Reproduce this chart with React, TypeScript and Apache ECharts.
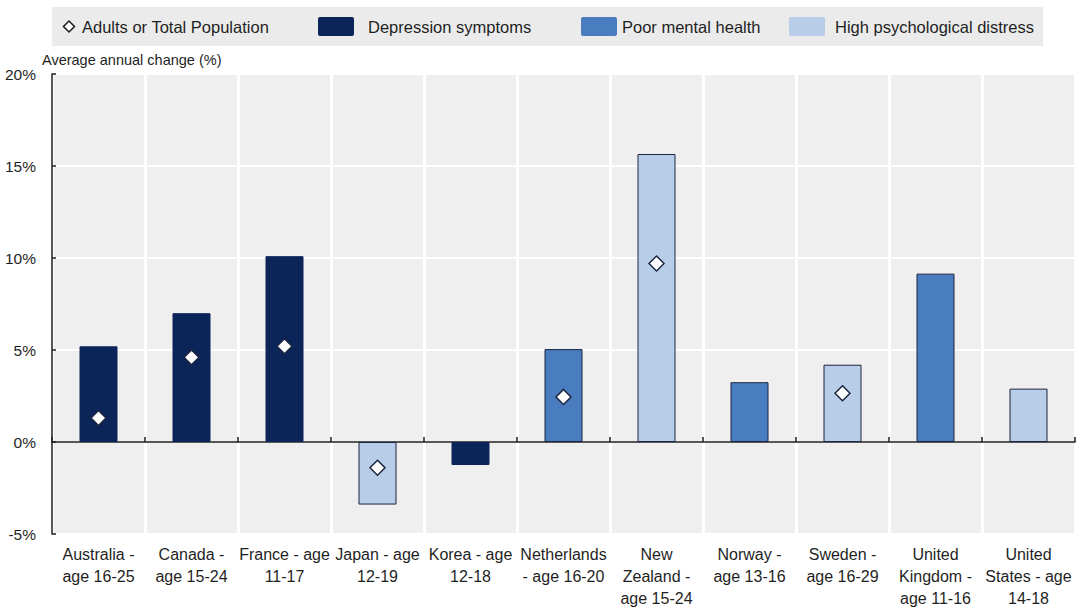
import React, { useEffect, useRef } from "react";
import * as echarts from "echarts";

const categories = [
  "Australia -\nage 16-25",
  "Canada -\nage 15-24",
  "France - age\n11-17",
  "Japan - age\n12-19",
  "Korea - age\n12-18",
  "Netherlands\n- age 16-20",
  "New\nZealand -\nage 15-24",
  "Norway -\nage 13-16",
  "Sweden -\nage 16-29",
  "United\nKingdom -\nage 11-16",
  "United\nStates - age\n14-18",
];

const depressionSymptoms = [5.2, 7.0, 10.1, null, -1.25, null, null, null, null, null, null];
const poorMentalHealth = [null, null, null, null, null, 5.05, null, 3.25, null, 9.15, null];
const highPsychDistress = [null, null, null, -3.4, null, null, 15.65, null, 4.2, null, 2.9];
const adultsTotal = [1.3, 4.6, 5.2, -1.4, null, 2.45, 9.7, null, 2.65, null, null];

const yTicks = { min: -5, max: 20, interval: 5 };

const legendItems = [
  { name: "Depression symptoms", color: "#0c2559" },
  { name: "Poor mental health", color: "#4a7dbf" },
  { name: "High psychological distress", color: "#b8cde7" },
];

const FONT = "'Liberation Sans', Arial, sans-serif";
const TEXT = "#1f1f1f";
const BORDER = "#1c2540";

export default function App() {
  const ref = useRef<HTMLDivElement>(null);

  useEffect(() => {
    document.body.style.margin = "0";
    const chart = echarts.init(ref.current!, undefined, { renderer: "svg" });

    const barSeries = [depressionSymptoms, poorMentalHealth, highPsychDistress].map((d, i) => ({
      name: legendItems[i].name,
      type: "bar",
      stack: "total",
      xAxisIndex: 0,
      barWidth: 38,
      data: d,
      itemStyle: {
        color: legendItems[i].color,
        borderColor: i === 0 ? legendItems[i].color : BORDER,
        borderWidth: 1,
      },
    }));

    const legendXs = [
      { rx: 318, tx: 368 },
      { rx: 581, tx: 622 },
      { rx: 789, tx: 835 },
    ];

    chart.setOption({
      animation: false,
      textStyle: { fontFamily: FONT },
      grid: {
        left: 52,
        right: 5,
        top: 74,
        bottom: 81,
        show: true,
        backgroundColor: "#efefef",
        borderWidth: 0,
      },
      xAxis: [
        {
          type: "category",
          data: categories,
          position: "bottom",
          axisLine: { show: false, onZero: false },
          axisTick: { show: false },
          splitLine: { show: true, interval: 0, lineStyle: { color: "#ffffff", width: 3 } },
          axisLabel: {
            interval: 0,
            fontSize: 16,
            lineHeight: 22,
            color: TEXT,
            margin: 9,
            fontFamily: FONT,
          },
        },
        {
          type: "category",
          data: categories,
          position: "bottom",
          axisLine: { show: true, onZero: true, lineStyle: { color: TEXT, width: 1.5 } },
          axisTick: { show: true, inside: true, length: 5, interval: 0, lineStyle: { color: TEXT, width: 1.5 } },
          axisLabel: { show: false },
          splitLine: { show: false },
        },
      ],
      yAxis: {
        type: "value",
        min: yTicks.min,
        max: yTicks.max,
        interval: yTicks.interval,
        axisLine: { show: true, lineStyle: { color: TEXT, width: 1.5 } },
        axisTick: { show: true, inside: true, length: 4, lineStyle: { color: TEXT, width: 1.5 } },
        splitLine: { show: true, lineStyle: { color: "#ffffff", width: 2 } },
        axisLabel: {
          formatter: "{value}%",
          fontSize: 15.5,
          color: TEXT,
          margin: 16,
          fontFamily: FONT,
        },
      },
      series: [
        ...barSeries,
        {
          name: "Adults or Total Population",
          type: "scatter",
          xAxisIndex: 0,
          symbol: "diamond",
          symbolSize: 15,
          data: adultsTotal,
          z: 5,
          itemStyle: { color: "#ffffff", opacity: 1, borderColor: BORDER, borderWidth: 1.5 },
        },
      ],
      graphic: [
        {
          type: "rect",
          shape: { x: 52, y: 7, width: 991, height: 39 },
          style: { fill: "#ebebeb" },
          silent: true,
        },
        {
          type: "polygon",
          shape: { points: [[69, 21], [74.5, 26.5], [69, 32], [63.5, 26.5]] },
          style: { fill: "#ffffff", stroke: "#1a1a1a", lineWidth: 1.5 },
        },
        {
          type: "text",
          x: 82,
          y: 27,
          style: {
            text: "Adults or Total Population",
            fontSize: 16.5,
            fontFamily: FONT,
            fill: TEXT,
            verticalAlign: "middle",
          },
        },
        ...legendItems.flatMap((it, i) => [
          {
            type: "rect",
            shape: { x: legendXs[i].rx, y: 17, width: 36, height: 19, r: 2 },
            style: { fill: it.color },
          },
          {
            type: "text",
            x: legendXs[i].tx,
            y: 27,
            style: {
              text: it.name,
              fontSize: 16.5,
              fontFamily: FONT,
              fill: TEXT,
              verticalAlign: "middle",
            },
          },
        ]),
        {
          type: "text",
          x: 42,
          y: 60,
          style: {
            text: "Average annual change (%)",
            fontSize: 14.5,
            fontFamily: FONT,
            fill: TEXT,
            verticalAlign: "middle",
          },
        },
      ],
    });

    return () => chart.dispose();
  }, []);

  return <div ref={ref} style={{ width: 1080, height: 615 }} />;
}
